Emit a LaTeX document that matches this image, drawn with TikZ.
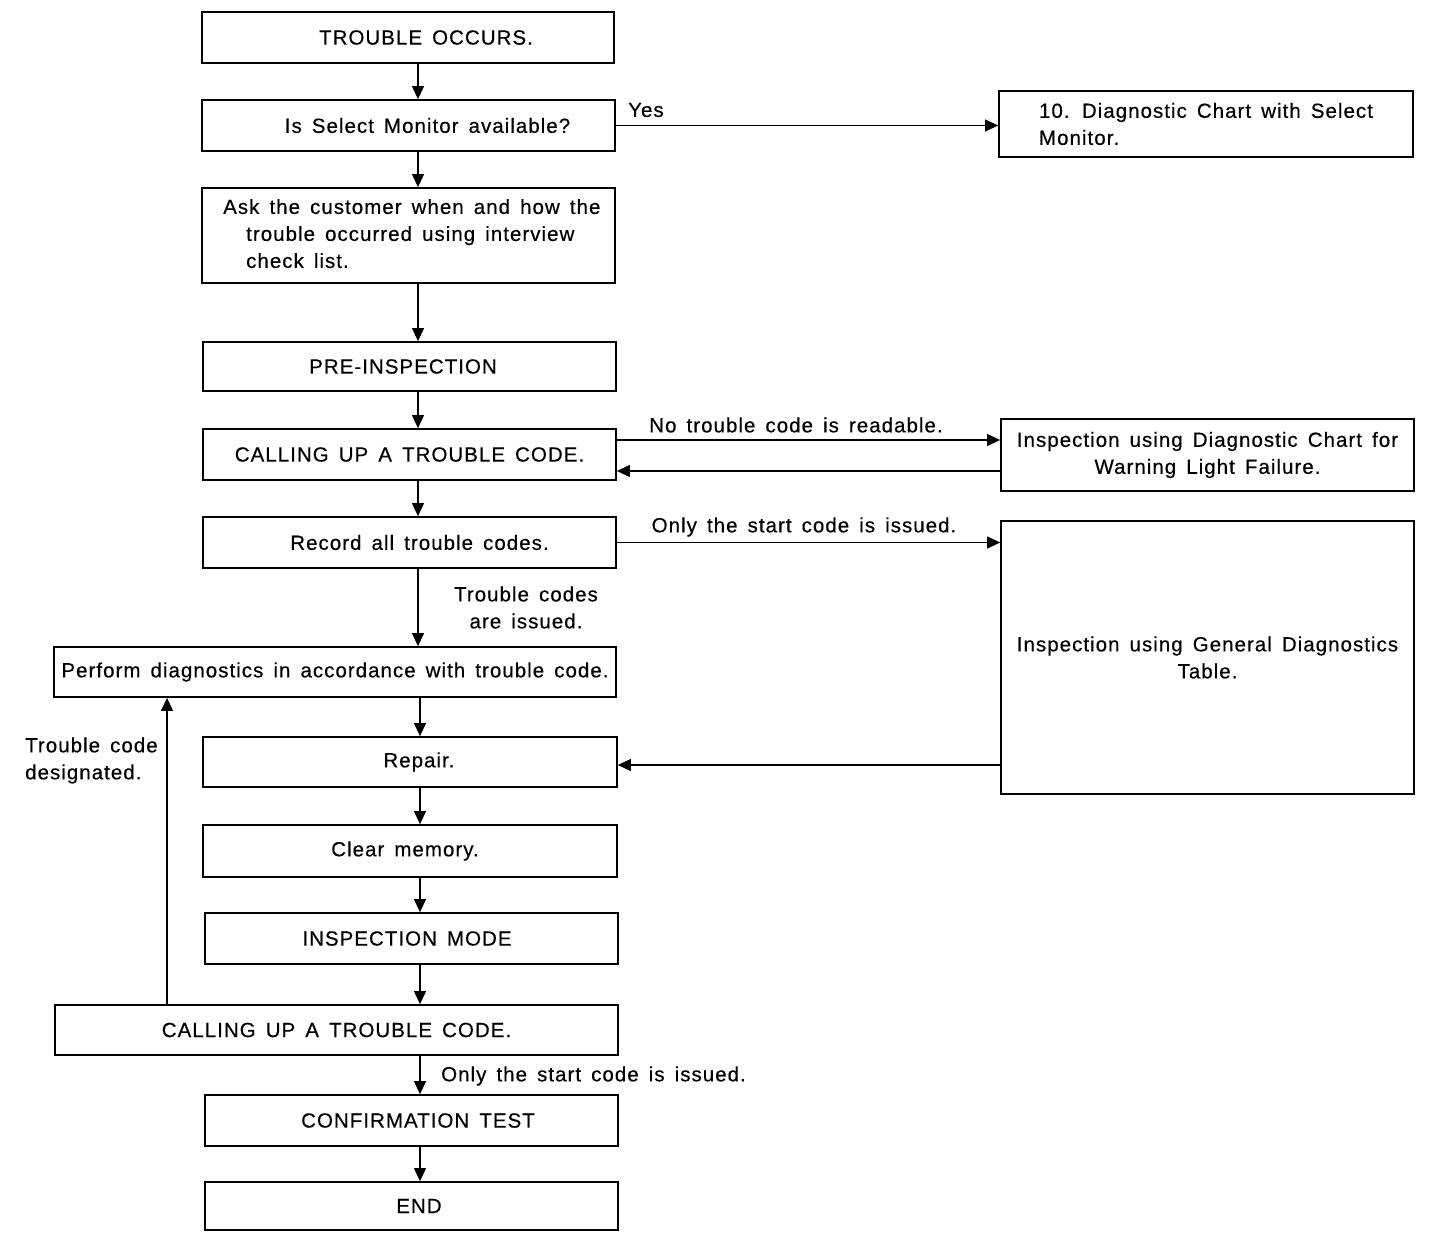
\documentclass[tikz,border=0pt]{standalone}
\usepackage{fontspec}
\setmainfont{Liberation Sans}[LetterSpace=5,WordSpace=1.5,FakeBold=0.4]
\usetikzlibrary{arrows.meta}
\begin{document}
\begin{tikzpicture}[x=1pt,y=-1pt,
  every node/.style={font=\fontsize{20.5}{27}\selectfont},
  box/.style={draw,line width=1.8pt,inner sep=0pt,align=center},
  arr/.style={line width=1.2pt,-{Triangle[length=13pt,width=12pt]}},
  lbl/.style={inner sep=0pt,align=center},
]
\useasboundingbox (0,0) rectangle (1456,1232);
% main column
\node[box,minimum width=412pt,minimum height=51pt] (n1) at (408,37.5) {\hspace*{36pt}TROUBLE OCCURS.};
\node[box,minimum width=413pt,minimum height=51pt] (n2) at (408.5,125.5) {\hspace*{38pt}Is Select Monitor available?};
\node[box,minimum width=413pt,minimum height=95pt] (n3) at (408.5,235.5) {};
\node[lbl,anchor=west] (n3t) at (246,235.5) {\begin{tabular}{@{}l@{}}\hspace*{-23pt}Ask the customer when and how the\\trouble occurred using interview\\check list.\end{tabular}};
\node[box,minimum width=413pt,minimum height=49pt] (n4) at (409.5,366.5) {\hspace*{-13pt}PRE-INSPECTION};
\node[box,minimum width=413pt,minimum height=51pt] (n5) at (409.5,454.5) {CALLING UP A TROUBLE CODE.};
\node[box,minimum width=413pt,minimum height=51pt] (n6) at (409.5,542.5) {\hspace*{20pt}Record all trouble codes.};
\node[box,minimum width=562pt,minimum height=50pt] (n7) at (335,672) {Perform diagnostics in accordance with trouble code.};
\node[box,minimum width=414pt,minimum height=50pt] (n8) at (410,762) {\hspace*{18pt}Repair.};
\node[box,minimum width=414pt,minimum height=52pt] (n9) at (410,851) {\hspace*{-10pt}Clear memory.};
\node[box,minimum width=413pt,minimum height=51pt] (n10) at (411.5,938.5) {\hspace*{-9pt}INSPECTION MODE};
\node[box,minimum width=563pt,minimum height=50pt] (n11) at (336.5,1030) {CALLING UP A TROUBLE CODE.};
\node[box,minimum width=413pt,minimum height=51pt] (n12) at (411.5,1120.5) {\hspace*{13pt}CONFIRMATION TEST};
\node[box,minimum width=413pt,minimum height=48pt] (n13) at (411.5,1206) {\hspace*{15pt}END};
% right column
\node[box,minimum width=414pt,minimum height=66pt,align=left] (r1) at (1206,124) {10. Diagnostic Chart with Select\\Monitor.};
\node[box,minimum width=413pt,minimum height=72pt] (r2) at (1207.5,455) {Inspection using Diagnostic Chart for\\Warning Light Failure.};
\node[box,minimum width=413pt,minimum height=273pt] (r3) at (1207.5,657.5) {Inspection using General Diagnostics\\Table.};
% helper coordinates
\coordinate (ax) at (418,0);
\coordinate (bx) at (420,0);
\coordinate (lx) at (167,0);
\coordinate (ya) at (0,440);
\coordinate (yb) at (0,471);
\coordinate (yc) at (0,765);
% vertical connectors
\draw[arr] (n1.south -| ax) -- (n2.north -| ax);
\draw[arr] (n2.south -| ax) -- (n3.north -| ax);
\draw[arr] (n3.south -| ax) -- (n4.north -| ax);
\draw[arr] (n4.south -| ax) -- (n5.north -| ax);
\draw[arr] (n5.south -| ax) -- (n6.north -| ax);
\draw[arr] (n6.south -| ax) -- (n7.north -| ax);
\draw[arr] (n7.south -| bx) -- (n8.north -| bx);
\draw[arr] (n8.south -| bx) -- (n9.north -| bx);
\draw[arr] (n9.south -| bx) -- (n10.north -| bx);
\draw[arr] (n10.south -| bx) -- (n11.north -| bx);
\draw[arr] (n11.south -| bx) -- (n12.north -| bx);
\draw[arr] (n12.south -| bx) -- (n13.north -| bx);
\draw[arr] (n11.north -| lx) -- (n7.south -| lx);
% horizontal connectors
\draw[arr] (n2.east) -- (n2.east -| r1.west);
\draw[arr] (n5.east |- ya) -- (r2.west |- ya);
\draw[arr] (r2.west |- yb) -- (n5.east |- yb);
\draw[arr] (n6.east) -- (n6.east -| r3.west);
\draw[arr] (r3.west |- yc) -- (n8.east |- yc);
% labels
\node[lbl,anchor=west] (l1) at (628,110) {Yes};
\node[lbl] (l2) at (796,425) {No trouble code is readable.};
\node[lbl] (l3) at (804,527) {Only the start code is issued.};
\node[lbl] (l4) at (526,607.5) {Trouble codes\\are issued.};
\node[lbl,anchor=west,align=left] (l5) at (25,760.5) {Trouble code\\designated.};
\node[lbl,anchor=west] (l6) at (441,1076) {Only the start code is issued.};
\end{tikzpicture}
\end{document}
